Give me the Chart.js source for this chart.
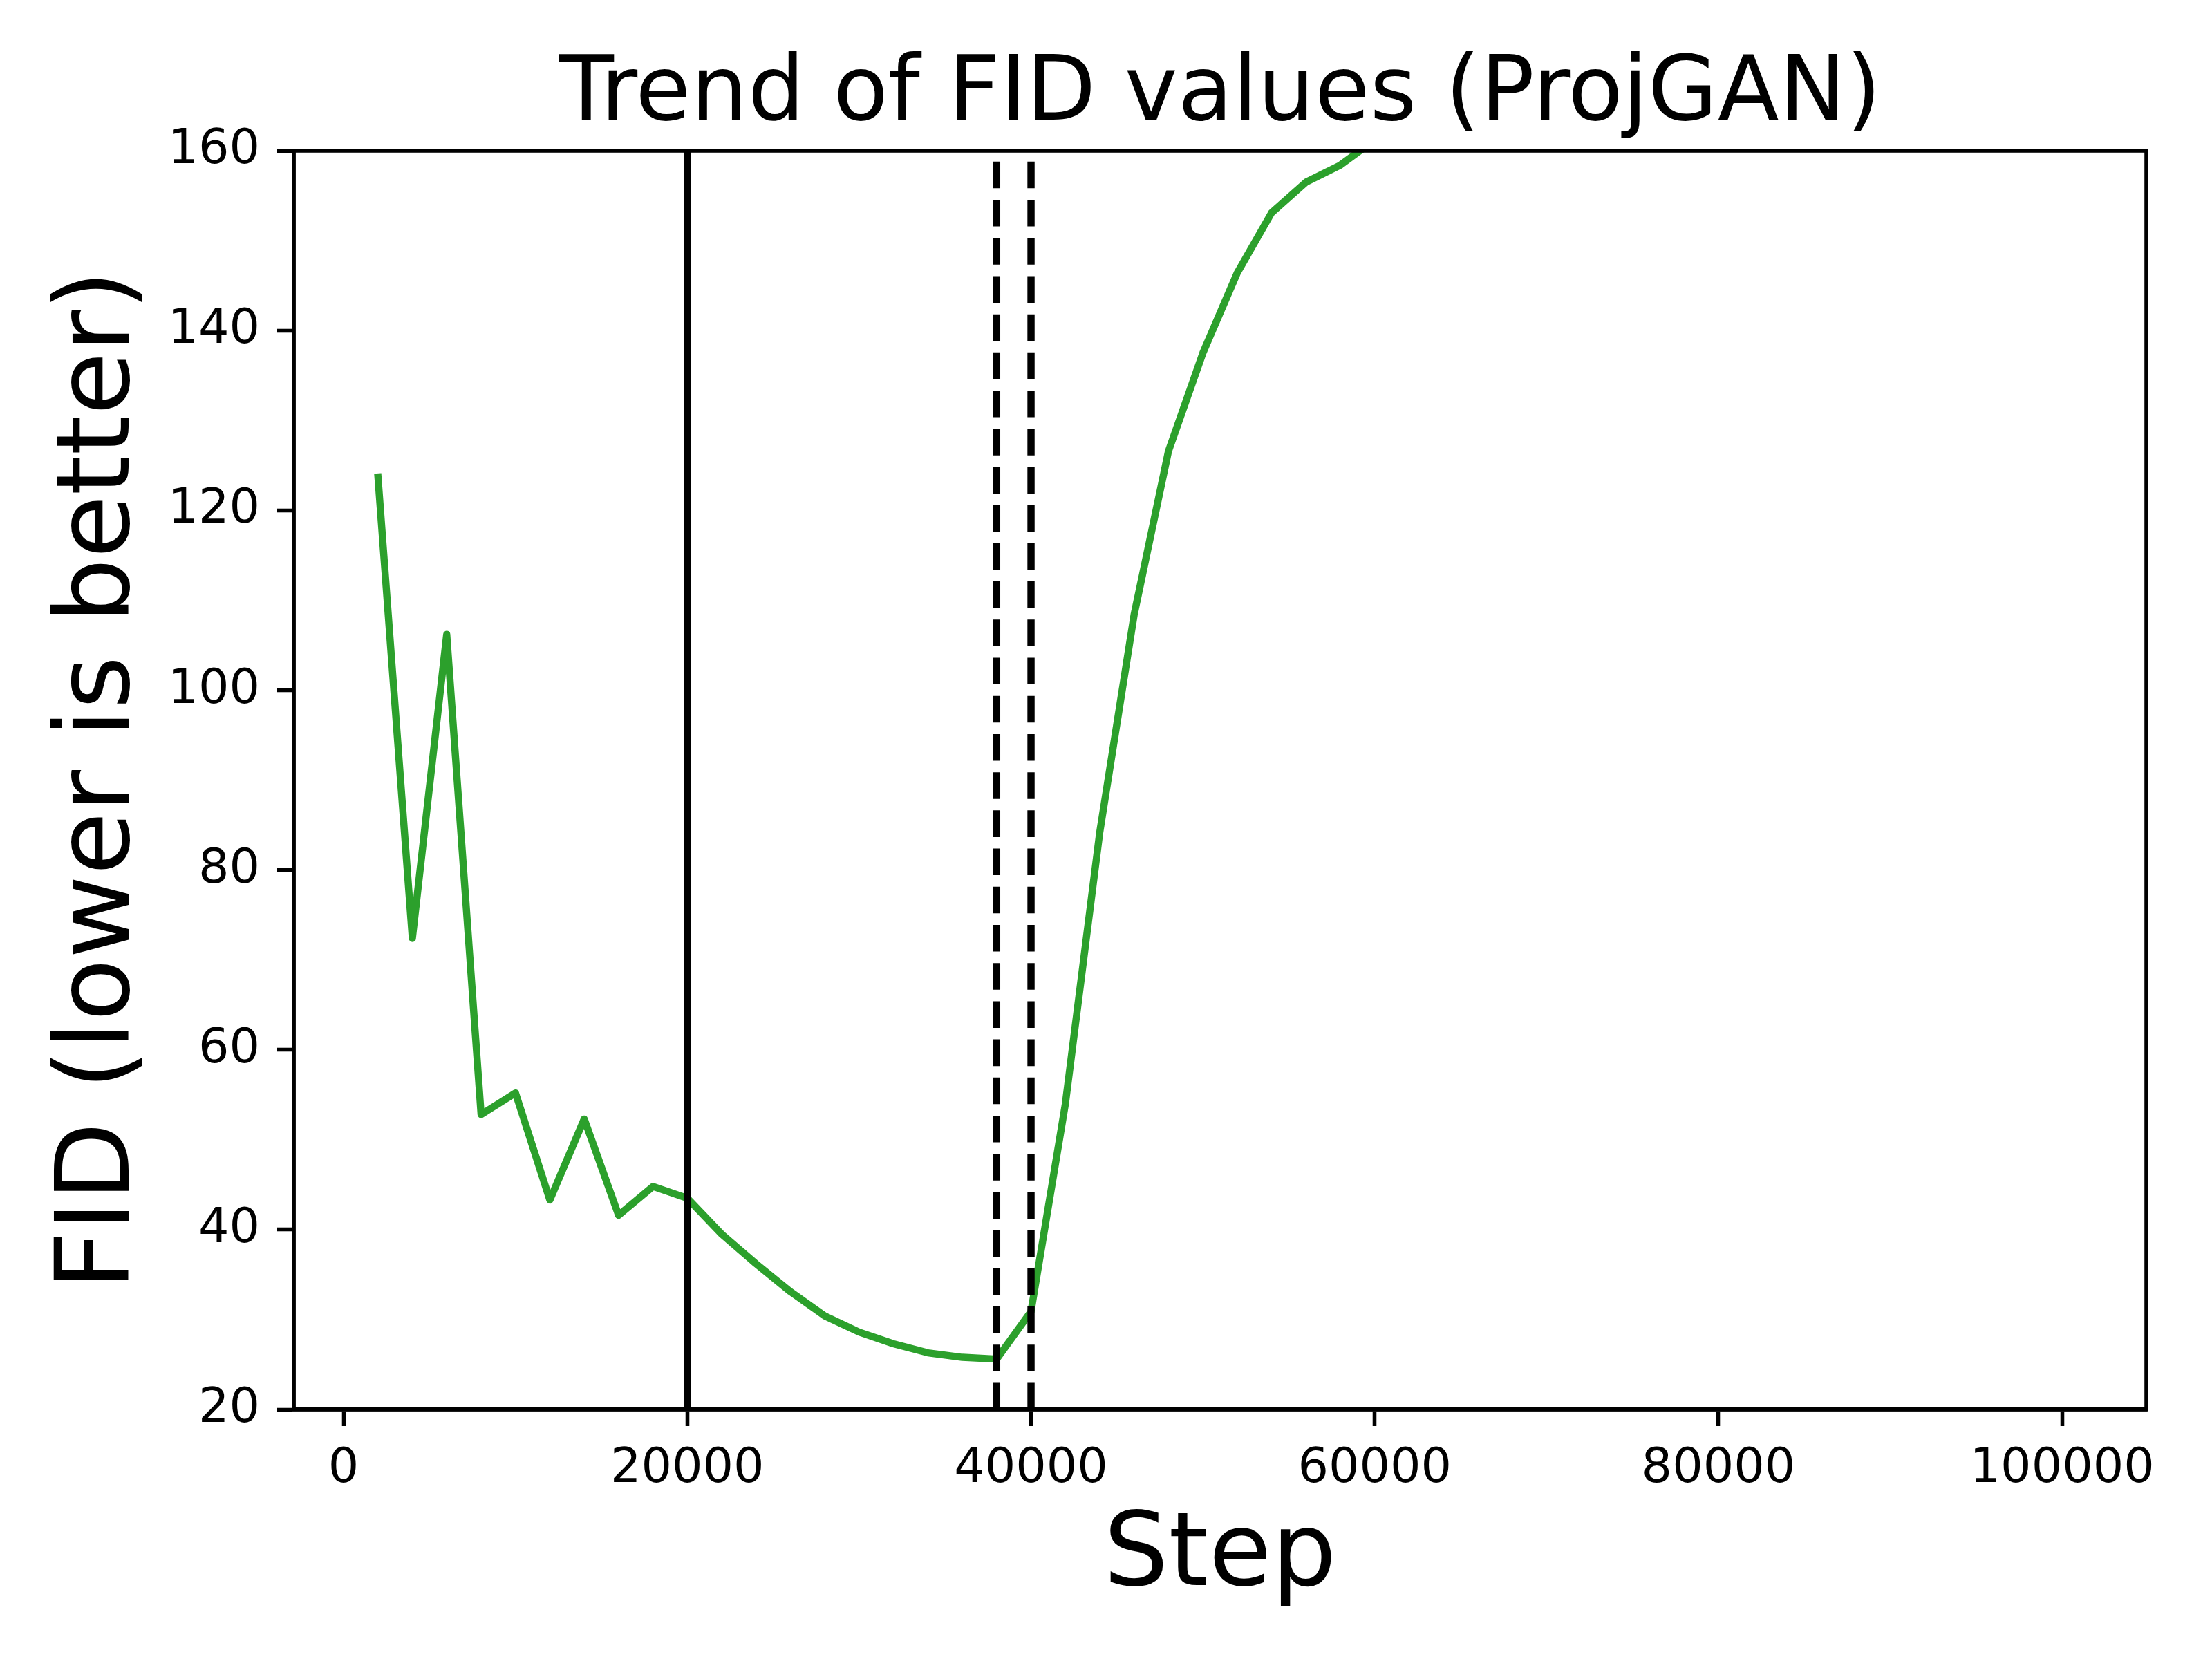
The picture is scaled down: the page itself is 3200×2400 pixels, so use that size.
<!DOCTYPE html>
<html>
<head>
<meta charset="utf-8">
<script src="https://cdn.jsdelivr.net/npm/chart.js@4/dist/chart.umd.min.js"></script>
<style>
  html, body { margin: 0; padding: 0; background: #fff; }
  #wrap { width: 3200px; height: 2400px; }
</style>
</head>
<body>
<div id="wrap"><canvas id="fidChart" width="3200" height="2400"></canvas></div>
<script>
// FID measured every 2000 steps (line leaves the plot above 160 after ~59000)
const steps = [2000, 4000, 6000, 8000, 10000, 12000, 14000, 16000, 18000, 20000,
  22000, 24000, 26000, 28000, 30000, 32000, 34000, 36000, 38000, 40000,
  42000, 44000, 46000, 48000, 50000, 52000, 54000, 56000, 58000, 60000];
const fidValues = [123.7, 72.4, 106.2, 52.8, 55.2, 43.3, 52.3, 41.6, 44.8, 43.5,
  39.5, 36.2, 33.1, 30.4, 28.6, 27.3, 26.3, 25.8, 25.6, 30.9,
  54.0, 84.2, 108.4, 126.6, 137.5, 146.4, 153.1, 156.5, 158.4, 161.2];

// vertical markers
const solidMarks = [20000];
const dashedMarks = [38000, 40000];

const xTicks = [0, 20000, 40000, 60000, 80000, 100000];
const yTicks = [20, 40, 60, 80, 100, 120, 140, 160];
const xRange = [-2900, 104900];
const yRange = [20, 160];

const dpi = 500 / 72;   // matplotlib points -> pixels
const font = "DejaVu Sans";
Chart.defaults.color = "#000";
Chart.defaults.font.family = font;

function vline(x, dashed) {
  return {
    data: [{x: x, y: yRange[0]}, {x: x, y: yRange[1]}],
    borderColor: "#000",
    borderWidth: 1.5 * dpi,
    borderDash: dashed ? [3.7 * 1.5 * dpi, 1.6 * 1.5 * dpi] : [],
    borderCapStyle: "butt",
    pointRadius: 0,
    clip: 0,
    order: 0
  };
}

const datasets = [];
solidMarks.forEach(x => datasets.push(vline(x, false)));
dashedMarks.forEach(x => datasets.push(vline(x, true)));
datasets.push({
  data: steps.map((s, i) => ({x: s, y: fidValues[i]})),
  borderColor: "#2ca02c",
  borderWidth: 1.5 * dpi,
  borderJoinStyle: "round",
  borderCapStyle: "square",
  pointRadius: 0,
  tension: 0,
  clip: 0,
  order: 1
});

// box round the plot area, like matplotlib spines
const frame = {
  id: "frame",
  afterDatasetsDraw(chart) {
    const a = chart.chartArea, ctx = chart.ctx;
    ctx.save();
    ctx.strokeStyle = "#000";
    ctx.lineWidth = 0.8 * dpi;
    ctx.strokeRect(a.left, a.top, a.right - a.left, a.bottom - a.top);
    ctx.restore();
  }
};

new Chart("fidChart", {
  type: "line",
  data: {datasets: datasets},
  plugins: [frame],
  options: {
    responsive: false,
    animation: false,
    devicePixelRatio: 1,
    layout: {padding: {left: 0, right: 95, top: 0, bottom: 0}},
    plugins: {
      legend: {display: false},
      tooltip: {enabled: false},
      title: {
        display: true,
        fullSize: false,
        text: "Trend of FID values (ProjGAN)",
        font: {size: 130, weight: "normal", lineHeight: 1.2},
        padding: {top: 61, bottom: 1},
        color: "#000"
      }
    },
    scales: {
      x: {
        type: "linear",
        min: xRange[0],
        max: xRange[1],
        afterBuildTicks: s => { s.ticks = xTicks.map(v => ({value: v})); },
        afterFit: s => { s.height = 361; },
        ticks: {
          font: {size: 70},
          padding: 21,
          maxRotation: 0,
          autoSkip: false,
          callback: v => String(v)
        },
        grid: {drawOnChartArea: false, drawTicks: true, tickLength: 24, tickWidth: 0.8 * dpi, color: "#000"},
        border: {display: true, color: "#000", width: 0.8 * dpi},
        title: {
          display: true,
          text: "Step",
          font: {size: 148, lineHeight: 1.2},
          padding: {top: 0, bottom: 57},
          color: "#000"
        }
      },
      y: {
        min: yRange[0],
        max: yRange[1],
        afterBuildTicks: s => { s.ticks = yTicks.map(v => ({value: v})); },
        afterFit: s => { s.width = 425; },
        ticks: {
          font: {size: 70},
          padding: 25,
          callback: v => String(v)
        },
        grid: {drawOnChartArea: false, drawTicks: true, tickLength: 24, tickWidth: 0.8 * dpi, color: "#000"},
        border: {display: true, color: "#000", width: 0.8 * dpi},
        title: {
          display: true,
          text: "FID (lower is better)",
          font: {size: 148, lineHeight: 1.2},
          padding: {top: 59, bottom: 0},
          color: "#000"
        }
      }
    }
  }
});
</script>
</body>
</html>
